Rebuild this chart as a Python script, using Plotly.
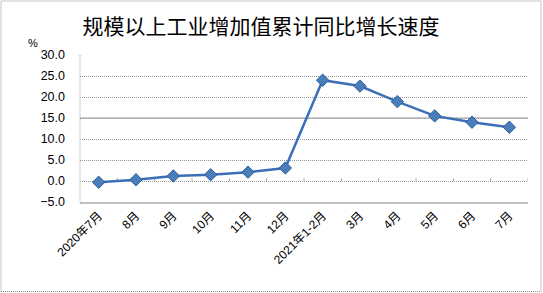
import plotly.graph_objects as go

categories = ["2020年7月", "8月", "9月", "10月", "11月", "12月",
              "2021年1-2月", "3月", "4月", "5月", "6月", "7月"]
values = [-0.3, 0.3, 1.2, 1.5, 2.1, 3.1, 24.0, 22.6, 18.9, 15.5, 14.0, 12.8]
y_ticks = [-5, 0, 5, 10, 15, 20, 25, 30]

W, H = 543, 293
ML, MR, MT, MB = 80, 15, 55, 91
PW, PH = W - ML - MR, H - MT - MB

font_fam = "Liberation Sans, Noto Sans CJK SC, sans-serif"

fig = go.Figure()
fig.add_trace(go.Scatter(
    x=categories, y=values, mode="lines+markers",
    line=dict(color="#3D6FB6", width=2.5),
    marker=dict(symbol="diamond", size=9.5, color="#4A7EBB",
                line=dict(color="#2E5C9A", width=1)),
    showlegend=False, hoverinfo="x+y",
))

shapes = []
# outer dotted border of the picture
shapes.append(dict(type="rect", xref="paper", yref="paper",
                   x0=(1 - ML) / PW, x1=(W - 2 - ML) / PW,
                   y0=-(MB - 1.5) / PH, y1=1 + (MT - 1) / PH,
                   line=dict(color="#8C8C8C", width=1, dash="1px,1px")))
# left axis dotted line
shapes.append(dict(type="line", xref="paper", yref="paper", x0=0, x1=0, y0=0, y1=1,
                   line=dict(color="#A6A6A6", width=1, dash="1px,1px")))
# solid line at 15
shapes.append(dict(type="line", xref="paper", yref="y", x0=0, x1=1, y0=15, y1=15,
                   line=dict(color="#CBCBCB", width=2), layer="between"))
# small tick marks on the zero line between categories
for i in range(len(categories)):
    shapes.append(dict(type="line", xref="x", yref="y", x0=i + 0.5, x1=i + 0.5,
                       y0=0, y1=0.7, line=dict(color="#A6A6A6", width=1), layer="between"))

fig.update_layout(
    width=W, height=H,
    margin=dict(l=ML, r=MR, t=MT, b=MB),
    paper_bgcolor="white", plot_bgcolor="white",
    font=dict(family=font_fam, size=12, color="#000000"),
    title=dict(text="规模以上工业增加值累计同比增长速度",
               x=261 / W, xanchor="center", y=1 - 27 / H, yanchor="middle",
               font=dict(family="Noto Sans CJK SC, sans-serif", size=21, color="#000000")),
    xaxis=dict(type="category", range=[-0.5, len(categories) - 0.5],
               showgrid=False, showline=True, linecolor="#C0C0C0", linewidth=2,
               ticks="", tickangle=-45, tickfont=dict(size=12, family=font_fam),
               fixedrange=True),
    yaxis=dict(range=[-5, 30], tickvals=y_ticks, tickformat=".1f",
               showgrid=True, gridcolor="#9A9A9A", griddash="1px,1px", gridwidth=1,
               zeroline=False, showline=False, ticks="",
               tickfont=dict(size=12.5, family=font_fam), ticklabelstandoff=14,
               fixedrange=True),
    shapes=shapes,
    annotations=[dict(text="%", xref="paper", yref="paper",
                      x=(33 - ML) / PW, y=1 + 12 / PH, showarrow=False,
                      xanchor="center", yanchor="middle",
                      font=dict(size=11, family=font_fam))],
)

fig.write_html("out.html")
